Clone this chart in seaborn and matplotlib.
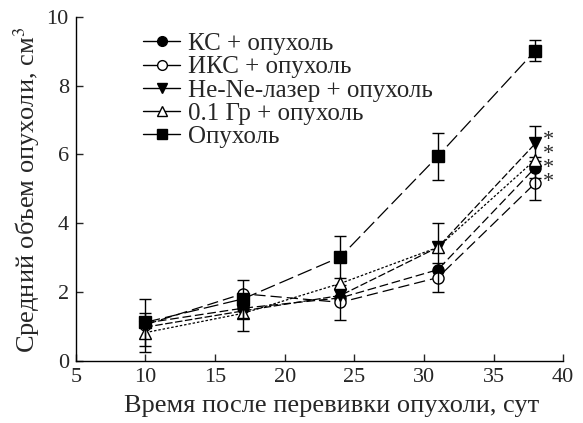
import matplotlib
matplotlib.use("Agg")
import matplotlib.pyplot as plt
from matplotlib.lines import Line2D
import seaborn as sns
import pandas as pd
import numpy as np

days = [10, 17, 24, 31, 38]
labels = ["КС + опухоль", "ИКС + опухоль", "He-Ne-лазер + опухоль", "0.1 Гр + опухоль", "Опухоль"]
kc = [1.10, 1.53, 1.83, 2.65, 5.62]
ikc = [1.05, 1.95, 1.70, 2.42, 5.17]
hene = [0.98, 1.45, 1.90, 3.30, 6.32]
gy = [0.82, 1.38, 2.25, 3.30, 5.85]
tumor = [1.12, 1.80, 3.02, 5.95, 9.02]
kc_err = [0.0, 0.0, 0.0, 0.0, 0.3]
ikc_err = [0.0, 0.0, 0.5, 0.42, 0.5]
hene_err = [0.0, 0.0, 0.0, 0.0, 0.5]
gy_err = [0.56, 0.5, 0.0, 0.7, 0.0]
tumor_err = [0.68, 0.55, 0.6, 0.68, 0.3]
xticks = [5, 10, 15, 20, 25, 30, 35, 40]
yticks = [0, 2, 4, 6, 8, 10]

sns.set_style("ticks")
plt.rcParams['font.family'] = ['Liberation Serif', 'DejaVu Serif']
plt.rcParams['mathtext.fontset'] = 'stix'

fig = plt.figure(figsize=(5.83, 4.23), dpi=100)
ax = fig.add_axes([0.130, 0.147, 0.836, 0.813])

series = [
    (labels[0], kc, kc_err, 'o', 'black', (0, (7, 3))),
    (labels[1], ikc, ikc_err, 'o', 'white', (0, (9, 4))),
    (labels[2], hene, hene_err, 'v', 'black', (0, (6, 2))),
    (labels[3], gy, gy_err, '^', 'white', (0, (2, 1.5))),
    (labels[4], tumor, tumor_err, 's', 'black', (0, (12, 4))),
]

for lab, vals, err, mk, fc, ls in series:
    df = pd.DataFrame({"day": days, "v": vals})
    sns.lineplot(data=df, x="day", y="v", ax=ax, color='black', lw=0.9,
                 linestyle=ls, marker=mk, markersize=8, markerfacecolor=fc,
                 markeredgecolor='black', markeredgewidth=1.0, label=lab)
    e = np.array(err)
    m = e > 0
    ax.errorbar(np.array(days)[m], np.array(vals)[m], yerr=e[m], fmt='none',
                ecolor='black', elinewidth=1.0, capsize=4, capthick=1.0)

# significance asterisks (one multi-line text)
ax.text(38.55, 5.8, "*\n*\n*\n*", fontsize=16, va='center', ha='left',
        linespacing=0.64)

ax.set_xlim(5, 40)
ax.set_ylim(0, 10)
ax.set_xticks(xticks)
ax.set_yticks(yticks)
ax.tick_params(direction='in', labelsize=16, length=5, width=1, pad=5)
ax.set_xlabel("Время после перевивки опухоли, сут", fontsize=19)
ax.set_ylabel("Средний объем опухоли, см$^3$", fontsize=19)
ax.xaxis.set_label_coords(0.524, -0.100)
ax.yaxis.set_label_coords(-0.070, 0.497)
sns.despine(ax=ax)
for s in ['left', 'bottom']:
    ax.spines[s].set_linewidth(1.0)
    ax.spines[s].set_color('black')

hs = []
for lab, vals, err, mk, fc, ls in series:
    hs.append(Line2D([], [], color='black', lw=1.0, marker=mk, markersize=7,
                     markerfacecolor=fc, markeredgecolor='black'))
ax.legend(hs, labels, loc='upper left', bbox_to_anchor=(0.107, 0.998), frameon=False,
          fontsize=18, handlelength=1.5, handletextpad=0.3, labelspacing=0.03,
          borderaxespad=0.2)

fig.savefig("out.png", dpi=100)
